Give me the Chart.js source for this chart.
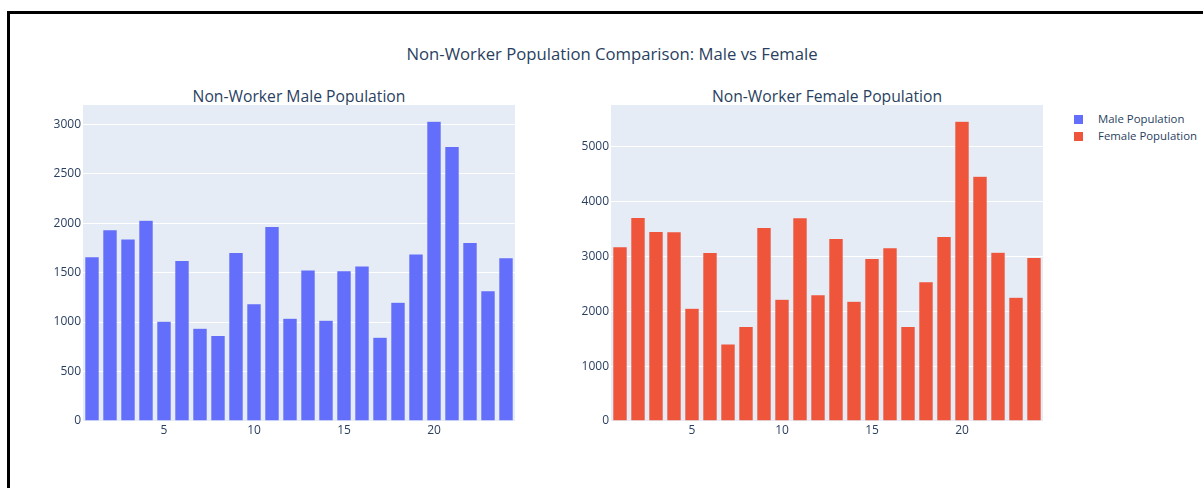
<!DOCTYPE html>
<html lang="en">
<head>
  <meta charset="UTF-8" />
  <title>Non-Worker Population Comparison</title>
  <script src="https://cdn.jsdelivr.net/npm/chart.js"></script>
  <style>
    body {
      margin: 0;
      background: #fff;
      font-family: 'Open Sans', verdana, arial, sans-serif;
      color: #2a3f5f;
    }
    #page {
      position: relative;
      width: 1203px;
      height: 488px;
      overflow: hidden;
    }
    .frame {
      position: absolute;
      left: 7px;
      top: 11px;
      width: 1400px;
      height: 700px;
      border-top: 3px solid #000;
      border-left: 3px solid #000;
      box-sizing: border-box;
    }
    .title {
      position: absolute;
      white-space: nowrap;
      transform: translate(-50%, -50%);
    }
    .chart-box {
      position: absolute;
      top: 105px;
    }
    .legend-item {
      position: absolute;
      left: 1074px;
      font-size: 11.4px;
      white-space: nowrap;
    }
    .legend-item span {
      display: inline-block;
      width: 9px;
      height: 9px;
      margin-right: 15px;
      vertical-align: -1px;
    }
  </style>
</head>
<body>
  <div id="page">
    <div class="frame"></div>
    <div class="title" style="left:612px; top:53px; font-size:16.7px;">Non-Worker Population Comparison: Male vs Female</div>
    <div class="title" style="left:299px; top:96px; font-size:15.7px;">Non-Worker Male Population</div>
    <div class="title" style="left:827px; top:96px; font-size:15.7px;">Non-Worker Female Population</div>

    <div class="chart-box" style="left:40px;"><canvas id="male" width="475" height="346"></canvas></div>
    <div class="chart-box" style="left:568px;"><canvas id="female" width="475" height="346"></canvas></div>

    <div class="legend-item" style="top:111px;"><span style="background:#636efa"></span>Male Population</div>
    <div class="legend-item" style="top:128px;"><span style="background:#ef553b"></span>Female Population</div>
  </div>

  <script>
    const areas = ['1', '2', '3', '4', '5', '6', '7', '8', '9', '10', '11', '12',
                   '13', '14', '15', '16', '17', '18', '19', '20', '21', '22', '23', '24'];
    const maleNonWorkers = [1660, 1934, 1839, 2028, 1009, 1623, 938, 864, 1704, 1184, 1967, 1039,
                            1525, 1019, 1519, 1566, 847, 1201, 1687, 3030, 2774, 1805, 1316, 1650];
    const femaleNonWorkers = [3175, 3710, 3455, 3449, 2056, 3072, 1405, 1721, 3528, 2220, 3704, 2299,
                              3327, 2184, 2962, 3157, 1721, 2536, 3364, 5462, 4459, 3078, 2257, 2981];
    const maleTicks = [0, 500, 1000, 1500, 2000, 2500, 3000];
    const femaleTicks = [0, 1000, 2000, 3000, 4000, 5000];
    const xTickLabels = ['5', '10', '15', '20'];

    const textColor = '#2a3f5f';
    const fontFamily = "'Open Sans', verdana, arial, sans-serif";

    // plotly-like grey plot area behind the bars
    const plotBg = {
      id: 'plotBg',
      beforeDraw(chart) {
        const { ctx, chartArea: a } = chart;
        ctx.save();
        ctx.fillStyle = '#E5ECF6';
        ctx.fillRect(a.left, a.top, a.right - a.left, a.bottom - a.top);
        ctx.restore();
      }
    };

    function makeChart(id, label, values, color, yMax, tickValues) {
      return new Chart(document.getElementById(id), {
        type: 'bar',
        data: {
          labels: areas,
          datasets: [{
            label: label,
            data: values,
            backgroundColor: color,
            borderColor: '#E5ECF6',
            borderWidth: 0.5,
            barPercentage: 1,
            categoryPercentage: 0.8
          }]
        },
        options: {
          responsive: false,
          animation: false,
          devicePixelRatio: 1,
          layout: { padding: 0 },
          plugins: {
            legend: { display: false },
            tooltip: { enabled: false }
          },
          scales: {
            x: {
              offset: true,
              grid: { display: false, drawTicks: false },
              border: { display: false },
              ticks: {
                color: textColor,
                font: { family: fontFamily, size: 12 },
                padding: 2,
                autoSkip: false,
                maxRotation: 0,
                callback: (v, i) => (xTickLabels.includes(areas[i]) ? areas[i] : '')
              },
              afterFit(s) {
                s.height = 30;
                s.paddingLeft = 0;
                s.paddingRight = 0;
              }
            },
            y: {
              min: 0,
              max: yMax,
              grid: { color: '#ffffff', lineWidth: 1, drawTicks: false },
              border: { display: false },
              ticks: {
                color: textColor,
                font: { family: fontFamily, size: 12 },
                padding: 2,
                callback: v => String(v)
              },
              afterBuildTicks(s) {
                s.ticks = tickValues.map(v => ({ value: v }));
              },
              afterFit(s) {
                s.width = 43;
                s.paddingTop = 0;
                s.paddingBottom = 0;
              }
            }
          }
        },
        plugins: [plotBg]
      });
    }

    makeChart('male', 'Male Population', maleNonWorkers, '#636efa', 3194, maleTicks);
    makeChart('female', 'Female Population', femaleNonWorkers, '#ef553b', 5760, femaleTicks);
  </script>
</body>
</html>
